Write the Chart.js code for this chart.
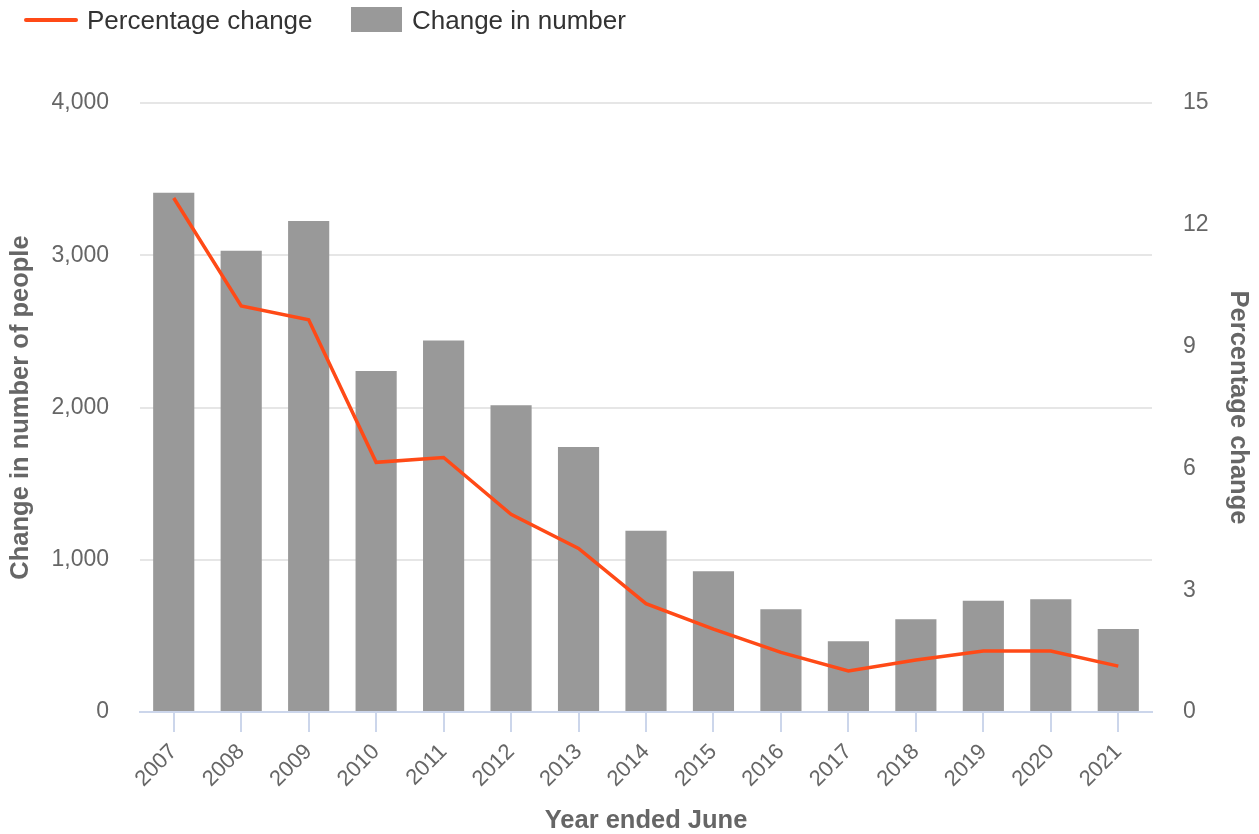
<!DOCTYPE html>
<html>
<head>
<meta charset="utf-8">
<script src="https://cdn.jsdelivr.net/npm/chart.js@4/dist/chart.umd.min.js"></script>
<style>
  html, body { margin: 0; padding: 0; background: #ffffff; }
  #wrap { position: relative; width: 1259px; height: 834px; font-family: "Liberation Sans", Arial, sans-serif; }
  #chart { position: absolute; left: 0; top: 0; }
  .legend-item { position: absolute; top: 0; height: 40px; display: flex; align-items: center; color: #333333; font-size: 26px; white-space: nowrap; }
  .lg-line { position: absolute; left: 24px; top: 18px; width: 54px; height: 4px; background: #ff4a17; border-radius: 2px; }
  .lg-box { position: absolute; left: 351px; top: 7px; width: 51px; height: 25px; background: #999999; }
</style>
</head>
<body>
<div id="wrap">
  <canvas id="chart" width="1259" height="834"></canvas>
  <div class="lg-line"></div>
  <div class="legend-item" style="left:87px;">Percentage change</div>
  <div class="lg-box"></div>
  <div class="legend-item" style="left:412px;">Change in number</div>
</div>
<script>
const years = ['2007','2008','2009','2010','2011','2012','2013','2014','2015','2016','2017','2018','2019','2020','2021'];
const changeInNumber = [3410, 3030, 3225, 2240, 2440, 2015, 1740, 1190, 925, 675, 465, 610, 730, 740, 545];
const percentageChange = [12.66, 10.0, 9.66, 6.15, 6.27, 4.87, 4.03, 2.67, 2.04, 1.47, 1.01, 1.28, 1.5, 1.5, 1.13];
const leftTicks = [0, 1000, 2000, 3000, 4000];
const rightTicks = [0, 3, 6, 9, 12, 15];

const FONT = '"Liberation Sans", Arial, sans-serif';

new Chart(document.getElementById('chart'), {
  data: {
    labels: years,
    datasets: [
      {
        type: 'line',
        label: 'Percentage change',
        data: percentageChange,
        yAxisID: 'yR',
        borderColor: '#ff4a17',
        backgroundColor: '#ff4a17',
        borderWidth: 3.5,
        pointRadius: 0,
        tension: 0,
        order: 0
      },
      {
        type: 'bar',
        label: 'Change in number',
        data: changeInNumber,
        yAxisID: 'yL',
        backgroundColor: '#999999',
        borderWidth: 0,
        barPercentage: 0.61,
        categoryPercentage: 1.0,
        order: 1
      }
    ]
  },
  options: {
    responsive: false,
    animation: false,
    events: [],
    layout: { padding: { top: 103, bottom: 0, left: 0, right: 0 } },
    plugins: { legend: { display: false }, tooltip: { enabled: false } },
    scales: {
      x: {
        type: 'category',
        offset: true,
        grid: { display: true, drawOnChartArea: false, drawTicks: true, tickLength: 20, color: '#ccd6eb', lineWidth: 2, offset: false },
        border: { display: true, color: '#ccd6eb', width: 2 },
        ticks: { color: '#666666', font: { family: FONT, size: 22 }, maxRotation: 45, minRotation: 45, padding: 7, autoSkip: false },
        title: { display: true, text: 'Year ended June', color: '#666666', font: { family: FONT, size: 25.5, weight: 'bold' }, padding: { top: 0, bottom: -2 } },
        afterFit: (s) => { s.height = 122; }
      },
      yL: {
        type: 'linear',
        position: 'left',
        min: 0,
        max: 4000,
        afterBuildTicks: (s) => { s.ticks = leftTicks.map(v => ({ value: v })); },
        grid: { color: '#e6e6e6', lineWidth: 2, drawTicks: false },
        border: { display: false },
        ticks: { color: '#666666', font: { family: FONT, size: 23 }, padding: 31, callback: (v) => v.toLocaleString('en-US') },
        title: { display: true, text: 'Change in number of people', color: '#666666', font: { family: FONT, size: 25.5, weight: 'bold' }, padding: { top: 6, bottom: 0 } },
        afterFit: (s) => { s.width = 140; }
      },
      yR: {
        type: 'linear',
        position: 'right',
        min: 0,
        max: 15,
        afterBuildTicks: (s) => { s.ticks = rightTicks.map(v => ({ value: v })); },
        grid: { display: false, drawTicks: false },
        border: { display: false },
        ticks: { color: '#666666', font: { family: FONT, size: 23 }, padding: 31 },
        title: { display: true, text: 'Percentage change', color: '#666666', font: { family: FONT, size: 25.5, weight: 'bold' }, padding: { top: 6, bottom: 0 } },
        afterFit: (s) => { s.width = 107; }
      }
    }
  }
});
</script>
</body>
</html>
